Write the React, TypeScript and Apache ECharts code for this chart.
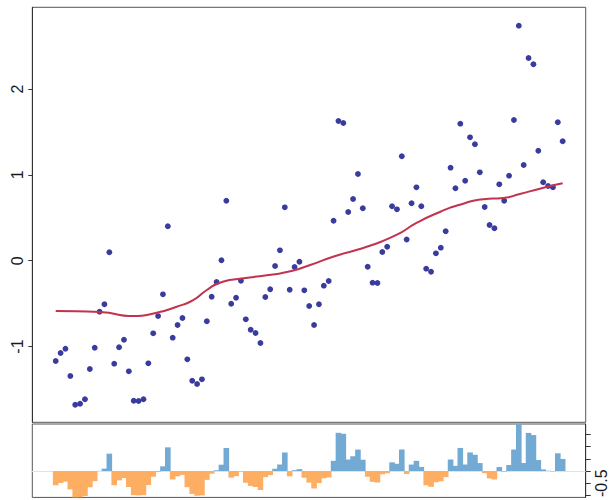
import React, { useEffect, useRef } from "react";
import * as echarts from "echarts";

// Scatter values, one per evenly spaced observation (x = observation index)
const pointY = [
  -1.169, -1.076, -1.026, -1.344, -1.678, -1.667, -1.615, -1.262, -1.014, -0.594,
  -0.508, 0.098, -1.2, -1.009, -0.921, -1.289, -1.632, -1.635, -1.615, -1.196,
  -0.846, -0.645, -0.392, 0.401, -0.897, -0.749, -0.668, -1.149, -1.399, -1.437,
  -1.382, -0.706, -0.42, -0.248, 0.005, 0.699, -0.501, -0.431, -0.233, -0.683,
  -0.804, -0.843, -0.959, -0.423, -0.333, -0.062, 0.121, 0.622, -0.338, -0.073,
  -0.012, -0.345, -0.528, -0.749, -0.508, -0.291, -0.237, 0.466, 1.628, 1.605,
  0.568, 0.719, 1.01, 0.611, -0.07, -0.256, -0.26, 0.101, 0.163, 0.634,
  0.599, 1.217, 0.247, 0.669, 0.855, 0.634, -0.093, -0.128, 0.086, 0.152,
  0.343, 1.084, 0.844, 1.597, 0.932, 1.438, 1.357, 1.03, 0.626, 0.416,
  0.378, 0.89, 0.699, 0.991, 1.64, 2.739, 1.115, 2.362, 2.289, 1.282,
  0.914, 0.871, 0.855, 1.613, 1.392,
];

// Smooth trend curve (x in observation-index units)
const smoothX = [0, 9.09, 15.9, 20.7, 24.8, 28.2, 31.0, 33.7, 37.8, 43.3, 47.4, 52.2, 56.9, 63.8, 69.9, 74.1, 78.8, 82.9, 87.7, 91.8, 95.2, 99.3, 104];
const smoothY = [-0.586, -0.598, -0.645, -0.606, -0.536, -0.458, -0.341, -0.256, -0.21, -0.17, -0.132, -0.05, 0.047, 0.163, 0.3, 0.443, 0.568, 0.653, 0.716, 0.731, 0.777, 0.839, 0.902];

// Residual bars, one per observation
const residuals = [
  -0.583, -0.489, -0.437, -0.754, -1.087, -1.074, -1.021, -0.667, -0.417, 0.004,
  0.096, 0.709, -0.582, -0.384, -0.289, -0.65, -0.988, -0.999, -0.987, -0.576,
  -0.234, -0.044, 0.192, 0.968, -0.347, -0.218, -0.159, -0.663, -0.936, -1.012,
  -0.999, -0.365, -0.111, 0.03, 0.258, 0.94, -0.271, -0.212, -0.024, -0.482,
  -0.61, -0.656, -0.78, -0.251, -0.169, 0.092, 0.266, 0.758, -0.216, 0.032,
  0.076, -0.274, -0.475, -0.715, -0.495, -0.299, -0.265, 0.417, 1.563, 1.523,
  0.469, 0.603, 0.877, 0.461, -0.237, -0.446, -0.472, -0.134, -0.094, 0.354,
  0.296, 0.88, -0.124, 0.264, 0.415, 0.167, -0.586, -0.648, -0.461, -0.42,
  -0.25, 0.47, 0.21, 0.943, 0.265, 0.758, 0.664, 0.324, -0.091, -0.305,
  -0.347, 0.162, -0.035, 0.244, 0.879, 1.962, 0.326, 1.558, 1.47, 0.448,
  0.066, 0.01, -0.02, 0.725, 0.49,
];

const mainTicks = [-1, 0, 1, 2];
const residTicks = [-1, -0.5, 0, 0.5, 1, 1.5];
const residLabels = [-0.5];

const FONT = "'Liberation Sans', Arial, Helvetica, sans-serif";

export default function App() {
  const ref = useRef<HTMLDivElement>(null);

  useEffect(() => {
    document.body.style.margin = "0";
    const chart = echarts.init(ref.current!, null, { renderer: "svg" });
    const xMin = -4.8;
    const xMax = 108.72;
    const axisColor = "#333";
    chart.setOption({
      animation: false,
      backgroundColor: "#fff",
      grid: [
        { left: 32.3, top: 7.3, width: 553.4, height: 415, show: true, borderColor: "#555", borderWidth: 1, backgroundColor: "transparent" },
        { left: 32.3, top: 424, width: 553.4, height: 74.5, show: true, borderColor: "#555", borderWidth: 1, backgroundColor: "transparent" },
      ],
      xAxis: [
        { gridIndex: 0, type: "value", min: xMin, max: xMax, show: false },
        {
          gridIndex: 1, type: "value", min: xMin, max: xMax,
          axisLine: { show: true, onZero: true, lineStyle: { color: "#e2e2e2", width: 1 } },
          axisTick: { show: false }, axisLabel: { show: false }, splitLine: { show: false },
        },
      ],
      yAxis: [
        {
          gridIndex: 0, type: "value", min: -1.883, max: 2.953,
          axisLine: { show: true, onZero: false, lineStyle: { color: axisColor } },
          axisTick: { show: true, length: 4, customValues: mainTicks, lineStyle: { color: axisColor } },
          axisLabel: { customValues: mainTicks, rotate: 90, margin: 7, fontSize: 16, color: "#1a1a1a", fontFamily: FONT },
          splitLine: { show: false },
        },
        {
          gridIndex: 1, type: "value", position: "right", min: -1.081, max: 1.923,
          axisLine: { show: true, onZero: false, lineStyle: { color: axisColor } },
          axisTick: { show: true, length: 5, customValues: residTicks, lineStyle: { color: axisColor } },
          axisLabel: { customValues: residLabels, rotate: 90, margin: 8, fontSize: 16, color: "#1a1a1a", fontFamily: FONT },
          splitLine: { show: false },
        },
      ],
      series: [
        {
          type: "scatter", xAxisIndex: 0, yAxisIndex: 0,
          data: pointY.map((v, i) => [i, v]),
          symbolSize: 5.8,
          itemStyle: { color: "#393c9c", opacity: 1 },
          z: 2,
        },
        {
          type: "line", xAxisIndex: 0, yAxisIndex: 0,
          data: smoothX.map((x, i) => [x, smoothY[i]]),
          smooth: 0.6, showSymbol: false, symbol: "none",
          lineStyle: { color: "#c3324f", width: 2 },
          z: 3,
        },
        {
          type: "bar", xAxisIndex: 1, yAxisIndex: 1,
          barWidth: 5.6,
          data: residuals.map((v, i) => ({
            value: [i, v],
            itemStyle: { color: v >= 0 ? "#72aad4" : "#fdae62" },
          })),
        },
      ],
    });
    return () => chart.dispose();
  }, []);

  return <div ref={ref} style={{ position: "absolute", left: 0, top: 0, width: 611, height: 500 }} />;
}
